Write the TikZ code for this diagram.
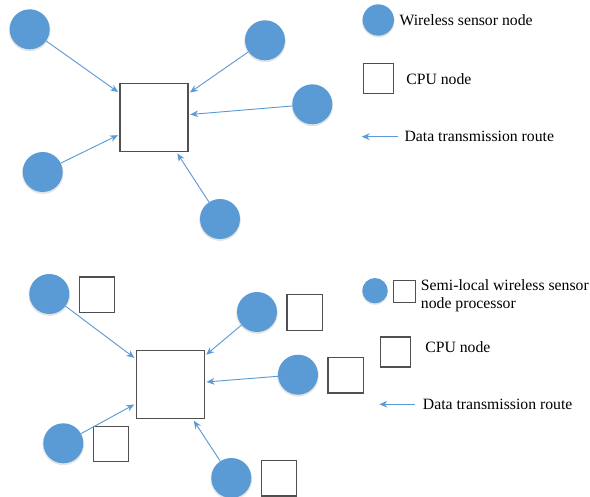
\documentclass[tikz,border=0pt]{standalone}
\usepackage{fontspec}
\setmainfont{Liberation Serif}
\usetikzlibrary{arrows.meta,shadows}
\definecolor{nodeblue}{HTML}{5B9BD5}
\definecolor{boxgray}{HTML}{505050}
\tikzset{
  sensor/.style={circle, fill=nodeblue, draw=none, inner sep=0pt, minimum size=#1,
     general shadow={fill=black!30, shadow yshift=-0.8pt, shadow scale=1.04, opacity=0.35}},
  sensor/.default=30pt,
  cpubox/.style={rectangle, draw=boxgray, line width=0.9pt, fill=white, inner sep=0pt, minimum size=#1},
  cpubox/.default=51pt,
  route/.style={draw=nodeblue, line width=0.7pt, -{Stealth[length=6pt,width=5pt]}, shorten >=1.2pt},
  label/.style={font=\fontsize{11.8}{13.7}\selectfont, inner sep=0pt, anchor=base west, align=left},
}
\begin{document}
\begin{tikzpicture}[x=0.75pt,y=-0.75pt]
\useasboundingbox (0,0) rectangle (590,497);
% ---------- top diagram ----------
\node[cpubox] (cpuA) at (154,117.5) {};
\node[sensor] (a1) at (29.7,29.3) {};
\node[sensor] (a2) at (265,40.3) {};
\node[sensor] (a3) at (312.3,104.3) {};
\node[sensor] (a4) at (42.7,172) {};
\node[sensor] (a5) at (220,219) {};
\foreach \s in {a1,a2,a3,a4,a5} \draw[route] (\s) -- (cpuA);
% top legend
\node[sensor=23.5pt] (lgA1) at (378.3,20) {};
\node[label] (lgA1t) at (399.3,25) {Wireless sensor node};
\node[cpubox=22.5pt] (lgA2) at (378.3,78.3) {};
\node[label] (lgA2t) at (406,84.3) {CPU node};
\coordinate (lgA3s) at (397.7,136.7);
\coordinate (lgA3e) at (361.7,136.7);
\draw[route, shorten >=0pt] (lgA3s) -- (lgA3e);
\node[label] (lgA3t) at (404.3,141.7) {Data transmission route};
% ---------- bottom diagram ----------
\node[cpubox] (cpuB) at (170.3,384.8) {};
\node[sensor] (b1) at (49.3,294) {};
\node[cpubox=26.5pt] (q1) at (97,294.7) {};
\node[sensor] (b2) at (257,312) {};
\node[cpubox=26.5pt] (q2) at (304.7,312.5) {};
\node[sensor] (b3) at (298,374.7) {};
\node[cpubox=26.5pt] (q3) at (345.7,375.3) {};
\node[sensor] (b4) at (63.3,443.3) {};
\node[cpubox=26.5pt] (q4) at (110.8,443.8) {};
\node[sensor] (b5) at (231.3,478) {};
\node[cpubox=26.5pt] (q5) at (278.8,478.3) {};
\foreach \s in {b1,b2,b3,b4,b5} \draw[route] (\s) -- (cpuB);
% bottom legend
\node[sensor=19pt] (lgB1) at (375,290.7) {};
\node[cpubox=16.5pt] (lgB1b) at (404.7,291.2) {};
\node[label] (lgB1t) at (420.7,308.5) {Semi-local wireless sensor\\node processor};
\node[cpubox=22.5pt] (lgB2) at (395.2,352) {};
\node[label] (lgB2t) at (425,352.7) {CPU node};
\coordinate (lgB3s) at (415,404.3);
\coordinate (lgB3e) at (379.3,404.3);
\draw[route, shorten >=0pt] (lgB3s) -- (lgB3e);
\node[label] (lgB3t) at (422.7,409) {Data transmission route};
\end{tikzpicture}
\end{document}
